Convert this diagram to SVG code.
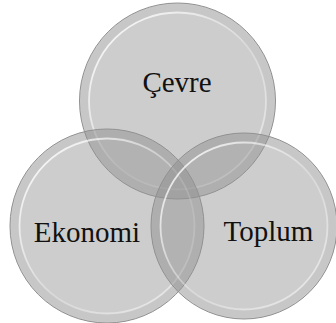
<svg xmlns="http://www.w3.org/2000/svg" width="336" height="323" viewBox="0 0 336 323">
<style>
.disc{fill:#939393;fill-opacity:0.46;stroke:#909090;stroke-width:1}
.band{fill:none;stroke:#7a7a7a;stroke-opacity:0.07;stroke-width:8}
.hi{fill:none;stroke:url(#hl);stroke-width:1.8}
.lbl{font-family:"Liberation Serif","Times New Roman",serif;font-size:29px;fill:#111;text-anchor:middle}
</style>
<defs>
<linearGradient id="hl" x1="0" y1="0" x2="1" y2="1">
<stop offset="0" stop-color="#fff" stop-opacity="0.95"/>
<stop offset="0.55" stop-color="#fff" stop-opacity="0.25"/>
<stop offset="1" stop-color="#fff" stop-opacity="0.6"/>
</linearGradient>
</defs>
<rect width="336" height="323" fill="#fff"/>
<g id="cevre">
<circle class="disc" cx="177.5" cy="101" r="98"/>
<circle class="band" cx="177.5" cy="101" r="93"/>
<circle class="hi" cx="177.5" cy="101" r="88.5"/>
</g>
<g id="ekonomi">
<circle class="disc" cx="107" cy="226" r="97"/>
<circle class="band" cx="107" cy="226" r="92"/>
<circle class="hi" cx="107" cy="226" r="87.5"/>
</g>
<g id="toplum">
<circle class="disc" cx="244" cy="226" r="93"/>
<circle class="band" cx="244" cy="226" r="88"/>
<circle class="hi" cx="244" cy="226" r="83.5"/>
</g>
<g id="labels">
<text class="lbl" x="177" y="92">Çevre</text>
<text class="lbl" x="87" y="242">Ekonomi</text>
<text class="lbl" x="268.5" y="241">Toplum</text>
</g>
<g id="connectors"></g>
</svg>
